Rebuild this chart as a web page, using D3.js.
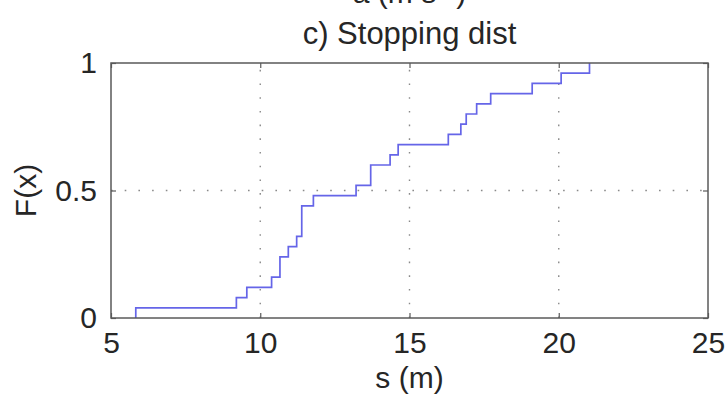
<!DOCTYPE html>
<html>
<head>
<meta charset="utf-8">
<script src="https://cdn.jsdelivr.net/npm/d3@7"></script>
<style>
  html, body { margin: 0; padding: 0; background: #fff; }
  svg { display: block; }
  text { font-family: "Liberation Sans", Arial, Helvetica, sans-serif; fill: #262626; }
</style>
</head>
<body>
<svg id="chart" width="727" height="399"></svg>
<script>
// Stopping distance samples (m), n = 25
const stopDist = [
  5.83, 9.20, 9.55, 10.38, 10.66, 10.66, 10.94, 11.22,
  11.39, 11.39, 11.39, 11.78, 13.21, 13.70, 13.70, 14.35,
  14.62, 16.30, 16.72, 16.90, 17.25, 17.72, 19.11, 20.08, 21.03
];
const xTicks = [5, 10, 15, 20, 25];
const yTicks = [0, 0.5, 1];
const yTickLabels = ["0", "0.5", "1"];
const xGrid = [10, 15, 20];
const yGrid = [0.5];

const svg = d3.select("#chart");
const m = { left: 111, right: 19, top: 63, bottom: 81 };
const W = 727, H = 399;

const x = d3.scaleLinear().domain([5, 25]).range([m.left, W - m.right]);
const y = d3.scaleLinear().domain([0, 1]).range([H - m.bottom, m.top]);

// Empirical CDF from the sorted samples
const sorted = stopDist.slice().sort(d3.ascending);
const n = sorted.length;
const ecdf = [{ s: sorted[0], F: 0 }];
sorted.forEach((s, i) => {
  if (i === n - 1 || sorted[i + 1] !== s) ecdf.push({ s, F: (i + 1) / n });
});

// Dotted grid
const grid = svg.append("g").attr("stroke", "#8a8a8a").attr("stroke-width", 1.4)
  .attr("stroke-dasharray", "1.6,12.1").attr("fill", "none");
grid.selectAll("line.gx").data(xGrid).join("line")
  .attr("x1", d => x(d)).attr("x2", d => x(d))
  .attr("y1", y(0)).attr("y2", y(1));
grid.selectAll("line.gy").data(yGrid).join("line")
  .attr("x1", x(5)).attr("x2", x(25))
  .attr("y1", d => y(d)).attr("y2", d => y(d));

// ECDF stair line
svg.append("path")
  .datum(ecdf)
  .attr("fill", "none")
  .attr("stroke", "#6565e8")
  .attr("stroke-width", 1.7)
  .attr("d", d3.line().x(d => x(d.s)).y(d => y(d.F)).curve(d3.curveStepAfter));

// Axes with inward ticks on all four sides
const tickLen = 5;
const axisColor = "#5a5a5a";
function styleAxis(g) {
  g.select(".domain").remove();
  g.selectAll(".tick line").attr("stroke", axisColor).attr("stroke-width", 1.2);
  g.selectAll("text").style("font-size", "30px").attr("fill", "#262626");
}
svg.append("g").attr("transform", `translate(0,${y(0)})`)
  .call(d3.axisBottom(x).tickValues(xTicks).tickSizeInner(-tickLen).tickSizeOuter(0).tickPadding(14).tickFormat(d3.format("d")))
  .call(styleAxis);
svg.append("g").attr("transform", `translate(0,${y(1)})`)
  .call(d3.axisTop(x).tickValues(xTicks).tickSizeInner(-tickLen).tickSizeOuter(0).tickFormat(""))
  .call(styleAxis);
svg.append("g").attr("transform", `translate(${x(5)},0)`)
  .call(d3.axisLeft(y).tickValues(yTicks).tickSizeInner(-tickLen).tickSizeOuter(0).tickPadding(14)
    .tickFormat((d, i) => yTickLabels[i]))
  .call(styleAxis);
svg.append("g").attr("transform", `translate(${x(25)},0)`)
  .call(d3.axisRight(y).tickValues(yTicks).tickSizeInner(-tickLen).tickSizeOuter(0).tickFormat(""))
  .call(styleAxis);

// Plot box
svg.append("rect")
  .attr("x", x(5)).attr("y", y(1))
  .attr("width", x(25) - x(5)).attr("height", y(0) - y(1))
  .attr("fill", "none").attr("stroke", axisColor).attr("stroke-width", 1.5);

// Labels
const cx = (x(5) + x(25)) / 2;
svg.append("text").attr("x", cx).attr("y", 3).attr("text-anchor", "middle")
  .style("font-size", "30px").text("a (m s⁻²)");
svg.append("text").attr("x", cx).attr("y", 44).attr("text-anchor", "middle")
  .style("font-size", "31px").text("c) Stopping dist");
svg.append("text").attr("x", cx).attr("y", 388).attr("text-anchor", "middle")
  .style("font-size", "30px").text("s (m)");
svg.append("text")
  .attr("transform", `translate(36,${(y(0) + y(1)) / 2}) rotate(-90)`)
  .attr("text-anchor", "middle")
  .style("font-size", "30px").text("F(x)");
</script>
</body>
</html>
